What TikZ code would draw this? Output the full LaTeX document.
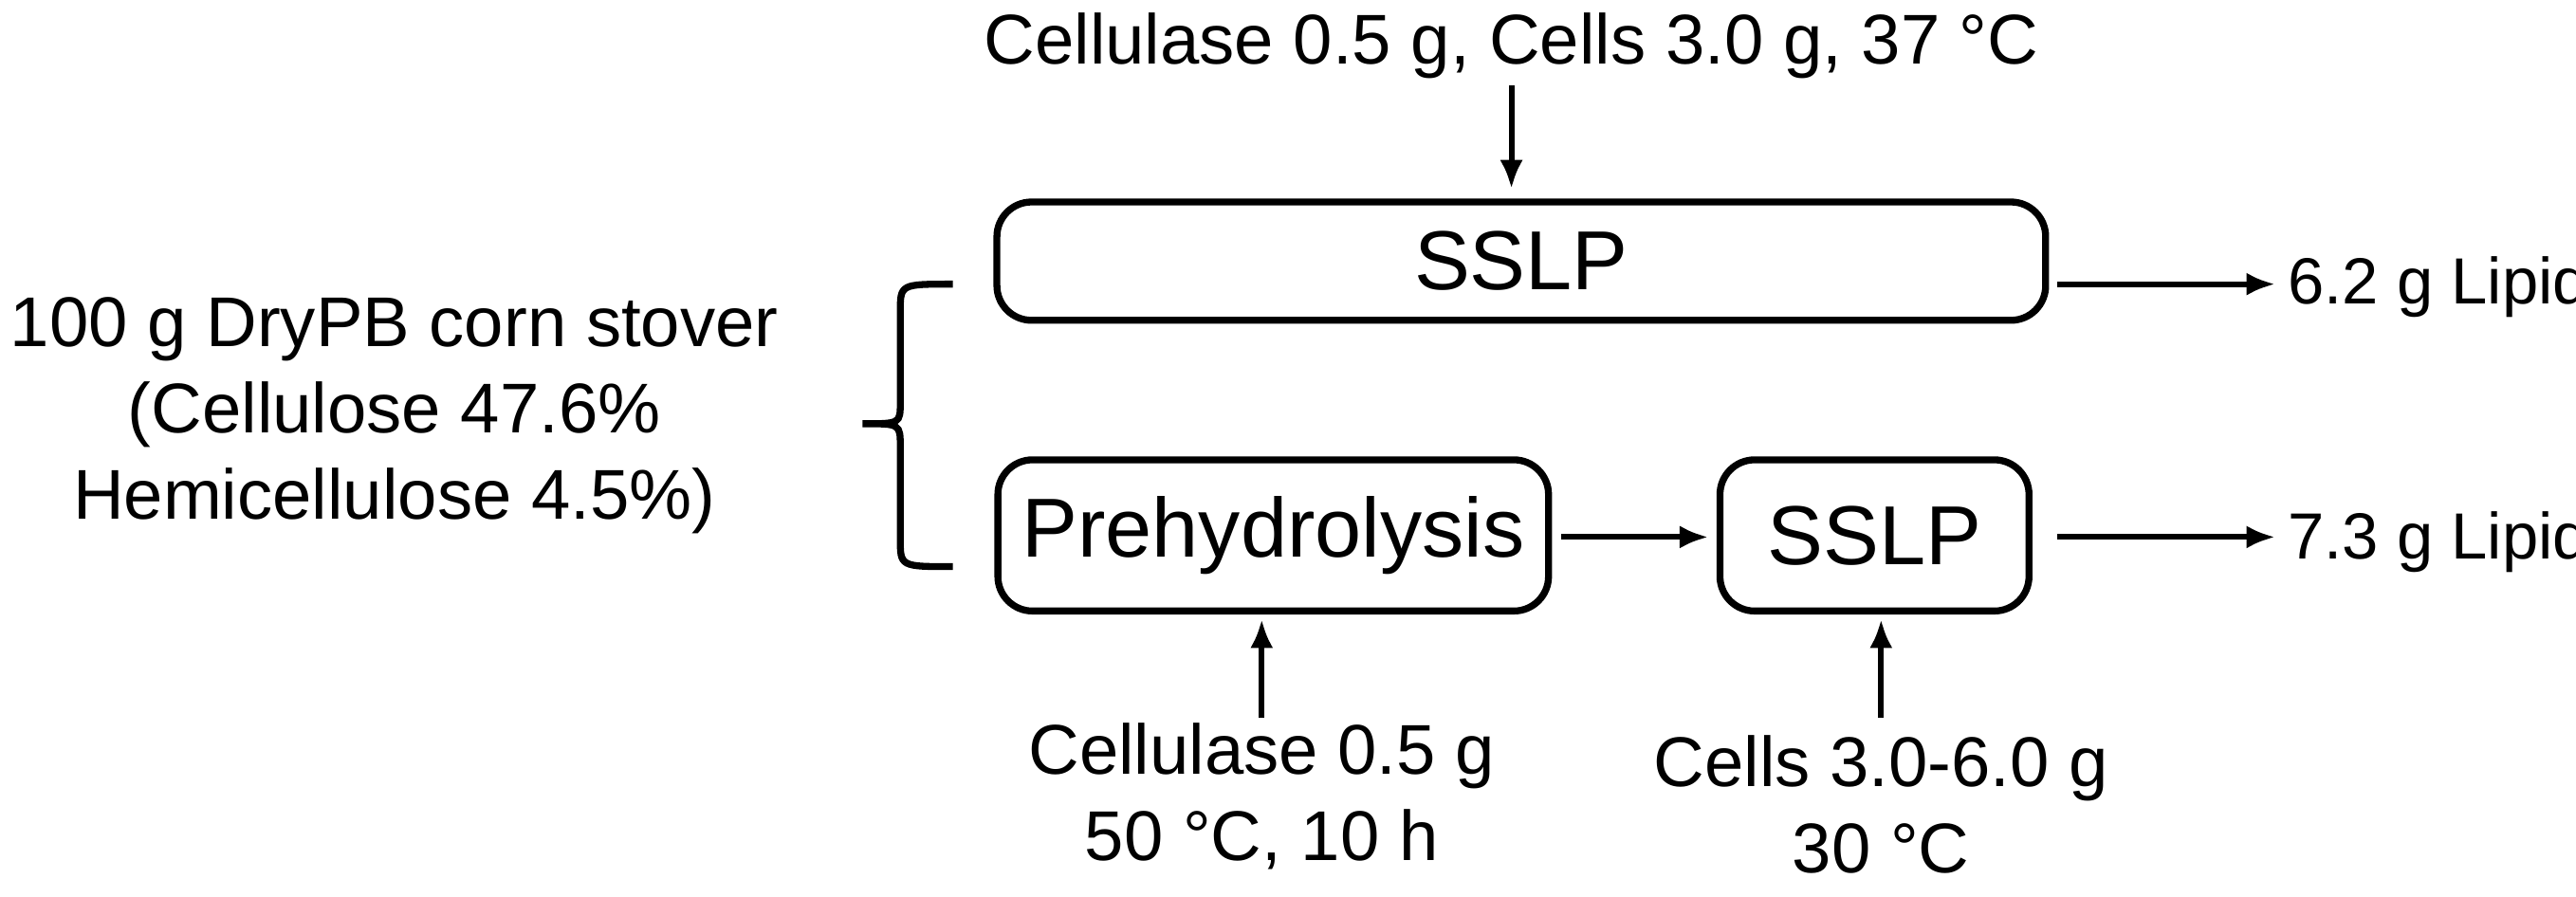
\documentclass[tikz,border=0pt]{standalone}
\usepackage{fontspec}
\setmainfont{Liberation Sans}
\usetikzlibrary{arrows.meta}
\begin{document}
\begin{tikzpicture}[x=0.01cm,y=-0.01cm,
  txt/.style={font=\fontsize{12.2}{15}\selectfont,align=center,inner sep=0},
  box/.style={draw,line width=1.2pt,rounded corners=6pt,inner sep=0},
  big/.style={inner sep=0,font=\fontsize{14.5}{17}\selectfont},
  arr/.style={-{Latex[length=5pt,width=4pt]},line width=1pt}]
\useasboundingbox (0,0) rectangle (1568,546);
\node[txt] (top) at (920,28) {Cellulase 0.5 g, Cells 3.0 g, 37 °C};
\node[box,minimum width=6.38cm,minimum height=0.72cm] (s1) at (926,159) {};
\node[big] at (s1) {SSLP};
\node[box,minimum width=3.35cm,minimum height=0.92cm] (p) at (775,326) {};
\node[big] at (p) {Prehydrolysis};
\node[box,minimum width=1.88cm,minimum height=0.92cm] (s2) at (1141,326) {};
\node[big] at (s2) {SSLP};
\node[txt,anchor=west,font=\fontsize{11.3}{14}\selectfont] (l1) at (1392,175) {6.2 g Lipid};
\node[txt,anchor=west,font=\fontsize{11.3}{14}\selectfont] (l2) at (1392,330) {7.3 g Lipid};
\node[txt] (src) at (240,253) {100 g DryPB corn stover\\(Cellulose 47.6\%\\Hemicellulose 4.5\%)};
\node[txt] (b1) at (768,485) {Cellulase 0.5 g\\50 °C, 10 h};
\node[txt] (b2) at (1145,490) {Cells 3.0-6.0 g\\30 °C};
\coordinate (t1) at (920,52);
\coordinate (t1e) at (920,115);
\coordinate (a1) at (1252,173);
\coordinate (a2) at (1385,173);
\coordinate (a3) at (950,327);
\coordinate (a4) at (1040,327);
\coordinate (a5) at (1252,327);
\coordinate (a6) at (1385,327);
\coordinate (u1) at (768,437);
\coordinate (u1e) at (768,377);
\coordinate (u2) at (1145,437);
\coordinate (u2e) at (1145,377);
\draw[arr] (t1) -- (t1e);
\draw[arr] (a1) -- (a2);
\draw[arr] (a3) -- (a4);
\draw[arr] (a5) -- (a6);
\draw[arr] (u1) -- (u1e);
\draw[arr] (u2) -- (u2e);
\draw[line width=1.2pt] (580,173) .. controls (548,173) .. (548,190) -- (548,245)
  .. controls (548,258) .. (525,258) .. controls (548,258) .. (548,272) -- (548,328)
  .. controls (548,345) .. (580,345);
\end{tikzpicture}
\end{document}
